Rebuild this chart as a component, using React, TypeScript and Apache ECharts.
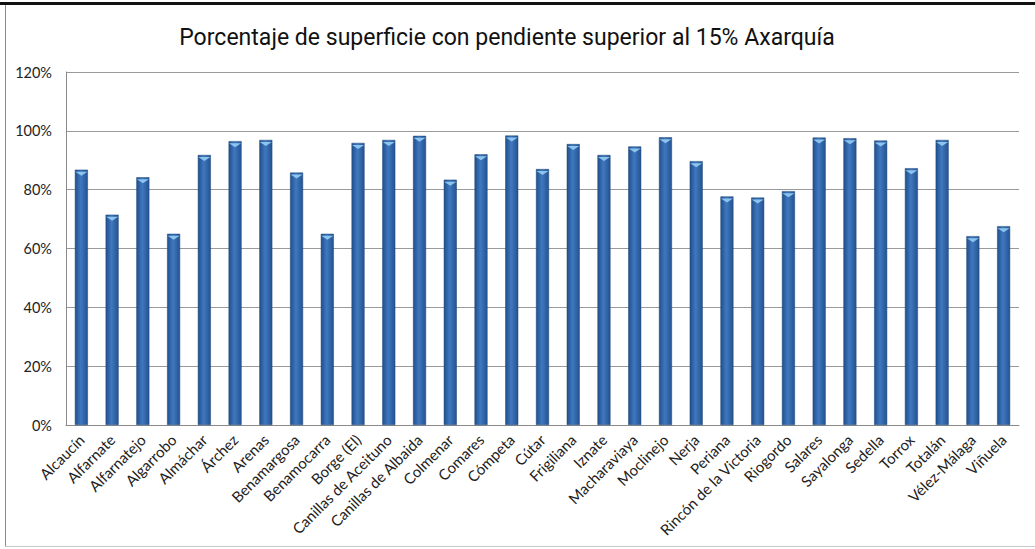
import React, { useEffect, useRef } from "react";
import * as echarts from "echarts";

const municipios = [
  "Alcaucín", "Alfarnate", "Alfarnatejo", "Algarrobo", "Almáchar", "Árchez", "Arenas",
  "Benamargosa", "Benamocarra", "Borge (El)", "Canillas de Aceituno", "Canillas de Albaida",
  "Colmenar", "Comares", "Cómpeta", "Cútar", "Frigiliana", "Iznate", "Macharaviaya",
  "Moclinejo", "Nerja", "Periana", "Rincón de la Victoria", "Riogordo", "Salares",
  "Sayalonga", "Sedella", "Torrox", "Totalán", "Vélez-Málaga", "Viñuela",
];

const porcentajes = [
  86.8, 71.5, 84.2, 65.0, 91.8, 96.5, 96.9, 85.8, 65.0, 95.9, 96.9, 98.3, 83.4, 92.0, 98.4,
  87.0, 95.5, 91.8, 94.7, 97.8, 89.7, 77.7, 77.3, 79.5, 97.7, 97.5, 96.7, 87.3, 96.9, 64.2, 67.6,
];

const yTicks = { min: 0, max: 120, interval: 20 };

const titulo = "Porcentaje de superficie con pendiente superior al 15% Axarquía";

export default function App() {
  const ref = useRef<HTMLDivElement>(null);
  useEffect(() => {
    if (!ref.current) return;
    const chart = echarts.init(ref.current, undefined, { renderer: "svg" });
    const barGrad = new echarts.graphic.LinearGradient(0, 0, 1, 0, [
      { offset: 0, color: "#21508c" },
      { offset: 0.45, color: "#3f78c0" },
      { offset: 1, color: "#245390" },
    ]);
    chart.setOption({
      animation: false,
      backgroundColor: "#ffffff",
      grid: { left: 66, right: 16, top: 72, bottom: 124, containLabel: false },
      xAxis: {
        type: "category",
        data: municipios,
        axisLine: { lineStyle: { color: "#8a8a8a", width: 1 } },
        axisTick: { show: false },
        axisLabel: {
          rotate: 45,
          interval: 0,
          fontFamily: "Lato",
          fontSize: 15,
          color: "#222",
          margin: 12,
        },
      },
      yAxis: {
        type: "value",
        min: yTicks.min,
        max: yTicks.max,
        interval: yTicks.interval,
        axisLine: { show: true, lineStyle: { color: "#8a8a8a", width: 1 } },
        axisTick: { show: false },
        splitLine: { lineStyle: { color: "#9a9a9a", width: 1 } },
        axisLabel: {
          formatter: "{value}%",
          fontFamily: "Lato",
          fontSize: 14.5,
          color: "#222",
          margin: 14,
        },
      },
      series: [
        {
          type: "bar",
          data: porcentajes,
          barWidth: 13,
          itemStyle: { color: barGrad, borderColor: "#1d4678", borderWidth: 0.5 },
        },
        {
          type: "pictorialBar",
          data: porcentajes,
          symbol: "path://M0,0 L10,0 L5,4 Z",
          symbolSize: [12, 4],
          symbolPosition: "end",
          symbolOffset: [0, "50%"],
          z: 3,
          itemStyle: { color: "#8cc4ee" },
          silent: true,
        },
      ],
      graphic: [
        { type: "rect", shape: { x: 0, y: 2, width: 1035, height: 3 }, style: { fill: "#111" } },
        { type: "line", shape: { x1: 5.5, y1: 5, x2: 5.5, y2: 547 }, style: { stroke: "#8a8a8a", lineWidth: 1 } },
        { type: "line", shape: { x1: 5, y1: 546.5, x2: 1035, y2: 546.5 }, style: { stroke: "#c8c8c8", lineWidth: 1 } },
        {
          type: "text",
          x: 507,
          y: 37,
          scaleX: 0.96,
          style: {
            text: titulo,
            font: "24px Roboto",
            fill: "#111",
            textAlign: "center",
            textVerticalAlign: "middle",
          },
        },
      ],
    });
    return () => chart.dispose();
  }, []);
  return (
    <div
      ref={ref}
      style={{ position: "fixed", left: 0, top: 0, width: 1035, height: 549 }}
    />
  );
}
